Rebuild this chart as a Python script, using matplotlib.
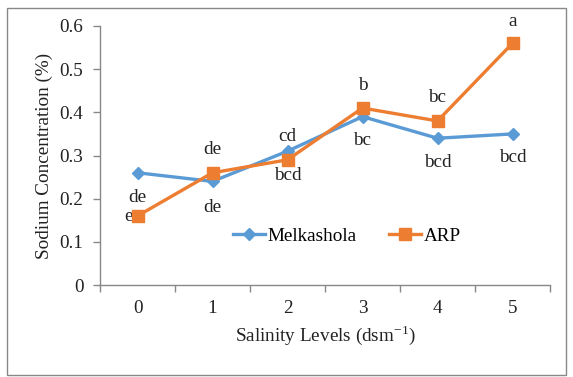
import matplotlib
matplotlib.use("Agg")
import matplotlib.pyplot as plt
from matplotlib.patches import Rectangle

plt.rcParams['font.family'] = ['Liberation Serif', 'DejaVu Serif']
plt.rcParams['mathtext.fontset'] = 'custom'
plt.rcParams['mathtext.rm'] = 'Liberation Serif'

levels = [0, 1, 2, 3, 4, 5]
melkashola = [0.26, 0.24, 0.31, 0.39, 0.34, 0.35]
arp = [0.16, 0.26, 0.29, 0.41, 0.38, 0.56]
melk_letters = ["de", "de", "cd", "bc", "bcd", "bcd"]
arp_letters = ["e", "de", "bcd", "b", "bc", "a"]

# label offsets in pixels (dx, dy)
melk_off = [(0, -25), (0, -26), (0, 15), (0, -24), (0, -24), (0, -24)]
arp_off = [(-5, -1), (0, 23), (0, -16), (0, 23), (0, 23), (0, 22)]

W, H = 573, 377
fig = plt.figure(figsize=(W / 100, H / 100), dpi=100)
ax = fig.add_axes([100 / W, 1 - 285 / H, 450 / W, (285 - 26) / H])

blue = '#5B9BD5'
orange = '#ED7D31'
ax.plot(levels, melkashola, color=blue, lw=2.4, marker='D', ms=6.5,
        label='Melkashola', zorder=3)
ax.plot(levels, arp, color=orange, lw=2.4, marker='s', ms=8.5,
        label='ARP', zorder=4)

fs = 13.8
for x, y, t, o in zip(levels, melkashola, melk_letters, melk_off):
    ax.annotate(t, (x, y), xytext=o, textcoords='offset pixels',
                ha='center', va='center', fontsize=fs, color='#222222')
for x, y, t, o in zip(levels, arp, arp_letters, arp_off):
    ax.annotate(t, (x, y), xytext=o, textcoords='offset pixels',
                ha='right' if o[0] < 0 else 'center', va='center',
                fontsize=fs, color='#222222')

ax.set_xlim(-0.5, 5.5)
ax.set_ylim(0, 0.6)
ax.set_yticks([0, 0.1, 0.2, 0.3, 0.4, 0.5, 0.6])
ax.set_yticklabels(['0', '0.1', '0.2', '0.3', '0.4', '0.5', '0.6'])
ax.set_xticks(levels)
ax.set_xticklabels([str(v) for v in levels])
ax.set_xticks([i - 0.5 for i in range(7)], minor=True)
ax.tick_params(axis='x', which='major', length=0, pad=11, labelsize=fs,
               colors='#222222')
ax.tick_params(axis='x', which='minor', length=5, color='#888888', width=1)
ax.tick_params(axis='y', length=5, color='#888888', width=1, labelsize=fs,
               labelcolor='#222222', pad=7)
for s in ['top', 'right']:
    ax.spines[s].set_visible(False)
for s in ['left', 'bottom']:
    ax.spines[s].set_color('#888888')
    ax.spines[s].set_linewidth(1)

ax.set_ylabel('Sodium Concentration (%)', fontsize=fs, color='#222222',
              labelpad=5)
ax.set_xlabel('Salinity Levels (dsm$^{\\mathrm{-1}}$)', fontsize=fs,
              color='#222222', labelpad=4)

ax.legend(loc='center', bbox_to_anchor=(347 / W, 1 - 236 / H),
          bbox_transform=fig.transFigure, ncol=2, frameon=False,
          fontsize=fs, handlelength=1.65, columnspacing=1.7,
          handletextpad=0.15)

fig.patches.append(Rectangle((7 / W, 1 - 375 / H), (566 - 7) / W,
                             (375 - 8) / H, transform=fig.transFigure,
                             fill=False, edgecolor='#888888', lw=1))

fig.savefig('out.png', dpi=100)
